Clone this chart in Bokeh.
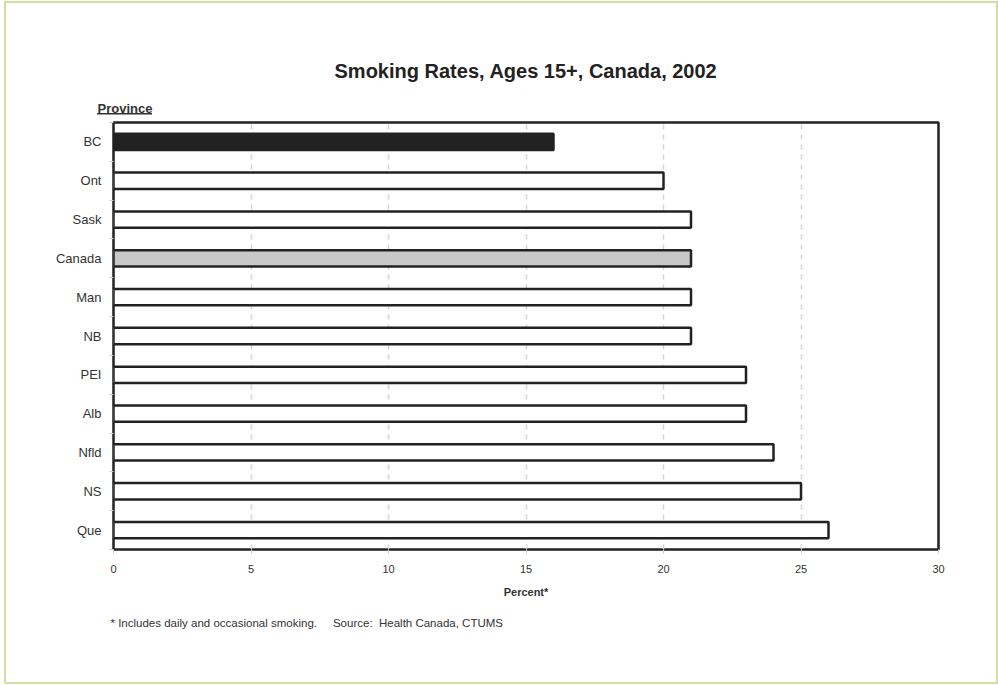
from bokeh.plotting import figure
from bokeh.models import Range1d, FixedTicker, ColumnDataSource, Title
from bokeh.embed import file_html
from bokeh.resources import INLINE

# ---- data ----
provinces = ["BC", "Ont", "Sask", "Canada", "Man", "NB", "PEI", "Alb", "Nfld", "NS", "Que"]
rates = [16, 20, 21, 21, 21, 21, 23, 23, 24, 25, 26]
x_ticks = [0, 5, 10, 15, 20, 25, 30]
title_text = "Smoking Rates, Ages 15+, Canada, 2002"
y_title = "Province"
x_title = "Percent*"
footnote = "* Includes daily and occasional smoking.\u00a0\u00a0\u00a0\u00a0 Source:\u00a0 Health Canada, CTUMS"

highlight = {"BC": "#222222", "Canada": "#c8c8c8"}
fills = [highlight.get(p, "#ffffff") for p in provinces]

NCAT = len(provinces)
ypos = [NCAT - 0.5 - i for i in range(NCAT)]  # first category at top

W, H = 998, 685
ML, MR, MT, MB = 113, 60, 122, 136
XMAX = 30.0

p = figure(width=W, height=H, output_backend="svg", toolbar_location=None,
           x_range=Range1d(0, XMAX), y_range=Range1d(0, NCAT),
           min_border_left=ML, min_border_right=MR, min_border_top=MT, min_border_bottom=MB)

p.background_fill_color = "white"
p.border_fill_color = None
p.outline_line_color = "#222222"
p.outline_line_width = 2.5

# page decorations drawn as CSS background of the figure element:
# underline under "Province" and the light green outer border
GREEN = "#d3dea2"
layers = [
    ("#333333", "97px 113px", "55px 1.5px"),
    (GREEN, "4px 1px", "2px 683px"),
    (GREEN, "4px 1px", "994px 2px"),
    (GREEN, "4px 682px", "994px 2px"),
    (GREEN, "996px 1px", "2px 683px"),
]
p.styles = {
    "background-image": ", ".join(f"linear-gradient({c}, {c})" for c, _, _ in layers),
    "background-position": ", ".join(pos for _, pos, _ in layers),
    "background-size": ", ".join(sz for _, _, sz in layers),
    "background-repeat": "no-repeat",
    "background-color": "white",
}

src = ColumnDataSource(dict(y=ypos, rate=rates, fill=fills, prov=provinces))
p.hbar(y="y", right="rate", left=0, height=0.42, source=src,
       fill_color="fill", line_color="#222222", line_width=2.5)

# grid
p.ygrid.grid_line_color = None
p.xgrid.ticker = FixedTicker(ticks=x_ticks)
p.xgrid.grid_line_color = "#d4d4d4"
p.xgrid.grid_line_dash = "5 5"
p.xgrid.grid_line_width = 1.5
p.xgrid.level = "underlay"

FONT = "Liberation Sans"

# x axis
xa = p.xaxis[0]
xa.ticker = FixedTicker(ticks=x_ticks)
xa.axis_line_color = None
xa.major_tick_out = 4
xa.major_tick_in = 0
xa.major_tick_line_color = "#cccccc"
xa.minor_tick_line_color = None
xa.major_label_standoff = 11
xa.major_label_text_font = FONT
xa.major_label_text_font_size = "11px"
xa.major_label_text_color = "#333333"
xa.axis_label = x_title
xa.axis_label_text_font = FONT
xa.axis_label_text_font_style = "bold"
xa.axis_label_text_font_size = "11px"
xa.axis_label_text_color = "#333333"
xa.axis_label_standoff = 10

# y axis
ya = p.yaxis[0]
ya.ticker = FixedTicker(ticks=ypos, minor_ticks=list(range(NCAT + 1)))
ya.major_label_overrides = {y: name for y, name in zip(ypos, provinces)}
ya.axis_line_color = None
ya.major_tick_line_color = None
ya.major_tick_out = 0
ya.minor_tick_line_color = "#cccccc"
ya.minor_tick_out = 4
ya.minor_tick_in = 0
ya.major_label_standoff = 8
ya.major_label_text_font = FONT
ya.major_label_text_font_size = "13px"
ya.major_label_text_color = "#333333"

# "Province" header (nearest to frame) and main title, as Titles above the plot
p.add_layout(Title(text=y_title, align="left", offset=-16, standoff=13,
                   text_font=FONT, text_font_style="bold", text_font_size="13px",
                   text_color="#333333"), "above")
p.add_layout(Title(text=title_text, align="center", offset=17, standoff=22,
                   text_font=FONT, text_font_style="bold", text_font_size="20px",
                   text_color="#222222"), "above")
# footnote below the axis
p.add_layout(Title(text=footnote, align="left", offset=-3, standoff=28,
                   text_font=FONT, text_font_style="normal", text_font_size="11.5px",
                   text_color="#333333"), "below")

open("out.html", "w").write(file_html(p, INLINE))
